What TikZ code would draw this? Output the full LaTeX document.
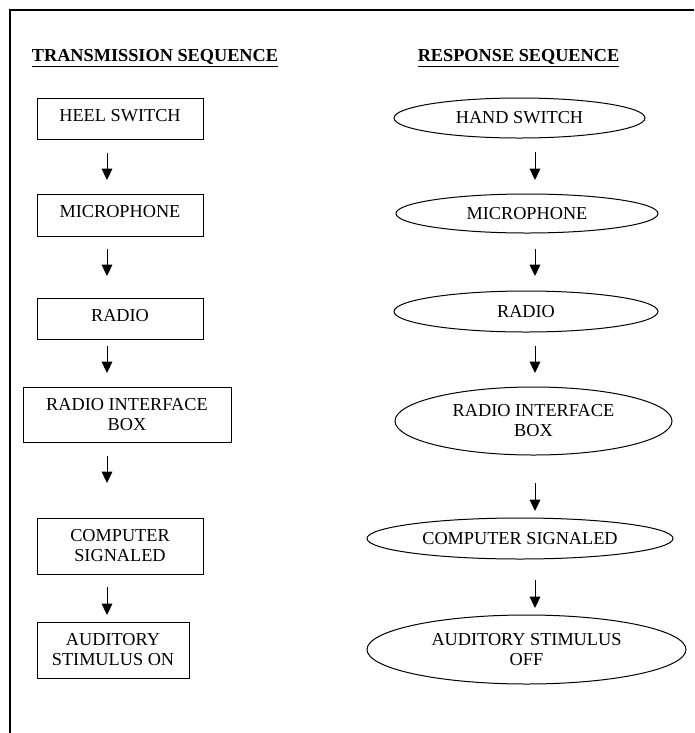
\documentclass[tikz,border=0pt]{standalone}
\usepackage{fontspec}
\setmainfont{Liberation Serif}
\usetikzlibrary{shapes.geometric,arrows.meta}
\newdimen\upx \upx=0.75pt
\begin{document}
\begin{tikzpicture}[x=0.75pt,y=-0.75pt,
  font=\fontsize{13.7}{15}\selectfont,
  tbox/.style={draw, line width=0.75pt, rectangle, inner sep=0pt, align=center},
  tboxone/.style={tbox, text depth=5.2pt},
  oval/.style={draw, line width=0.75pt, ellipse, inner sep=0pt, align=center},
  arr/.style={line width=0.75pt, -{Triangle[width=8pt,length=8.5pt]}},
  head/.style={font=\fontsize{13.7}{15}\selectfont\bfseries, inner sep=0pt, anchor=base}]

\useasboundingbox (0,0) rectangle (694,733);

% frame
\coordinate (fr1) at (694,10);
\coordinate (fr2) at (10,10);
\coordinate (fr3) at (10,733);
\draw[line width=0.9pt] (fr1) -- (fr2) -- (fr3);

% headings
\node[head] (hl) at (155,61) {\underline{TRANSMISSION SEQUENCE}};
\node[head] (hr) at (518.5,61) {\underline{RESPONSE SEQUENCE}};

% transmission sequence
\node[tboxone, minimum width=166\upx, minimum height=41\upx] (l1) at (120,118.5) {HEEL SWITCH};
\node[tboxone, minimum width=166\upx, minimum height=42\upx] (l2) at (120,215) {MICROPHONE};
\node[tboxone, minimum width=166\upx, minimum height=41\upx] (l3) at (120,318.5) {RADIO};
\node[tbox, minimum width=208\upx, minimum height=55\upx] (l4) at (127,414.5) {RADIO INTERFACE\\BOX};
\node[tbox, minimum width=166\upx, minimum height=56\upx] (l5) at (120,546) {COMPUTER\\SIGNALED};
\node[tbox, minimum width=152\upx, minimum height=56\upx] (l6) at (113,650) {AUDITORY\\STIMULUS ON};

% response sequence
\node[oval, minimum width=251\upx, minimum height=40\upx] (r1) at (519.5,118) {HAND SWITCH};
\node[oval, minimum width=262\upx, minimum height=39\upx] (r2) at (527,213.5) {MICROPHONE};
\node[oval, minimum width=264\upx, minimum height=41\upx] (r3) at (526,311.5) {RADIO};
\node[oval, minimum width=277\upx, minimum height=68\upx] (r4) at (533.5,421) {RADIO INTERFACE\\BOX};
\node[oval, minimum width=306\upx, minimum height=41\upx] (r5) at (520,538.5) {COMPUTER SIGNALED};
\node[oval, minimum width=319\upx, minimum height=69\upx] (r6) at (526.5,649.5) {AUDITORY STIMULUS\\OFF};

% arrow end points (arrows float between the shapes)
\coordinate (la1) at (107,153); \coordinate (lb1) at (107,180);
\coordinate (la2) at (107,249); \coordinate (lb2) at (107,276);
\coordinate (la3) at (107,346); \coordinate (lb3) at (107,373);
\coordinate (la4) at (107,456); \coordinate (lb4) at (107,483);
\coordinate (la5) at (107,587); \coordinate (lb5) at (107,615);

\coordinate (ra1) at (535,152); \coordinate (rb1) at (535,180);
\coordinate (ra2) at (535,249); \coordinate (rb2) at (535,276);
\coordinate (ra3) at (535,346); \coordinate (rb3) at (535,373);
\coordinate (ra4) at (535,483); \coordinate (rb4) at (535,511);
\coordinate (ra5) at (535,580); \coordinate (rb5) at (535,608);

\foreach \i in {1,...,5}{
  \draw[arr] (la\i) -- (lb\i);
  \draw[arr] (ra\i) -- (rb\i);
}
\end{tikzpicture}
\end{document}
